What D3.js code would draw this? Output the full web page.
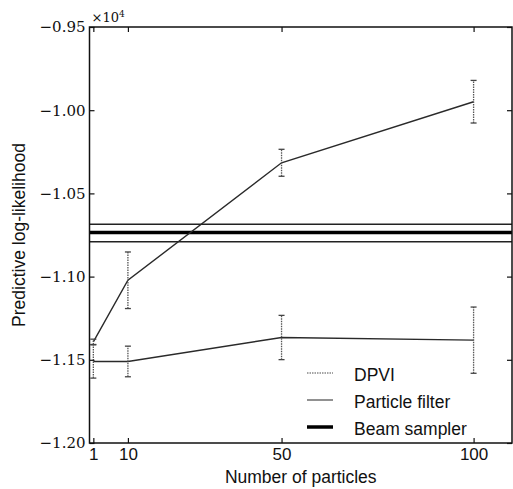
<!DOCTYPE html>
<html>
<head>
<meta charset="utf-8">
<script src="https://cdn.jsdelivr.net/npm/d3@7"></script>
<style>
  body { margin: 0; background: #fff; }
</style>
</head>
<body>
<svg id="chart" width="513" height="489"></svg>
<script>
// values are in units of 10^4
const particles = [1, 10, 50, 100]
const dpviMean = [-1.1392, -1.1022, -1.0316, -0.9949]
const dpviErr = [0.0016, 0.0170, 0.0081, 0.0128]
const pfMean = [-1.1510, -1.1510, -1.1366, -1.1382]
const pfErr = [0.0100, 0.0092, 0.0133, 0.0199]
const beamMean = -1.0735
const beamBand = [-1.0685, -1.0791]
const xTicks = [1, 10, 50, 100]
const yTicks = [-1.20, -1.15, -1.10, -1.05, -1.00, -0.95]
const legendNames = ["DPVI", "Particle filter", "Beam sampler"]

const svg = d3.select("#chart")
const plotLeft = 89.5, plotRight = 512, plotTop = 27, plotBottom = 443

const x = d3.scaleLinear().domain([0, 110]).range([plotLeft, plotRight])
const y = d3.scaleLinear().domain([-1.20, -0.95]).range([plotBottom, plotTop])

const serif = "'DejaVu Serif', 'Liberation Serif', serif"
const sans = "'Liberation Sans', Arial, sans-serif"

// beam sampler: mean and band
svg.append("line")
    .attr("x1", x(0)).attr("x2", x(110))
    .attr("y1", y(beamMean)).attr("y2", y(beamMean))
    .attr("stroke", "#000").attr("stroke-width", 3.5)
beamBand.forEach(v => {
    svg.append("line")
        .attr("x1", x(0)).attr("x2", x(110))
        .attr("y1", y(v)).attr("y2", y(v))
        .attr("stroke", "#222").attr("stroke-width", 1.4)
})

function drawSeries(mean, err) {
    const pts = particles.map((p, i) => [p, mean[i], err[i]])
    const line = d3.line().x(d => x(d[0])).y(d => y(d[1]))
    svg.append("path")
        .datum(pts)
        .attr("d", line)
        .attr("fill", "none")
        .attr("stroke", "#2a2a2a")
        .attr("stroke-width", 1.4)
    const g = svg.append("g")
    pts.forEach(d => {
        g.append("line")
            .attr("x1", x(d[0])).attr("x2", x(d[0]))
            .attr("y1", y(d[1] - d[2])).attr("y2", y(d[1] + d[2]))
            .attr("stroke", "#555").attr("stroke-width", 1.3)
            .attr("stroke-dasharray", "1.5,1")
        ;[d[1] - d[2], d[1] + d[2]].forEach(v => {
            g.append("line")
                .attr("x1", x(d[0]) - 3).attr("x2", x(d[0]) + 3)
                .attr("y1", y(v)).attr("y2", y(v))
                .attr("stroke", "#444").attr("stroke-width", 1.3)
        })
    })
}

drawSeries(dpviMean, dpviErr)
drawSeries(pfMean, pfErr)

// axes with inward ticks on all four sides
const fmt = d3.format(".2f")
const axL = svg.append("g").attr("transform", `translate(${plotLeft},0)`)
    .call(d3.axisLeft(y).tickValues(yTicks).tickSize(-5).tickPadding(4).tickFormat(fmt))
axL.selectAll("text").attr("font-family", serif).attr("font-size", 15).attr("fill", "#111")
const axR = svg.append("g").attr("transform", `translate(${plotRight},0)`)
    .call(d3.axisRight(y).tickValues(yTicks).tickSize(-5).tickFormat(""))
const axB = svg.append("g").attr("transform", `translate(0,${plotBottom})`)
    .call(d3.axisBottom(x).tickValues(xTicks).tickSize(-5).tickPadding(5))
axB.selectAll("text").attr("font-family", sans).attr("font-size", 17).attr("fill", "#111")
const axT = svg.append("g").attr("transform", `translate(0,${plotTop})`)
    .call(d3.axisTop(x).tickValues(xTicks).tickSize(-5).tickFormat(""))
;[axL, axR, axB, axT].forEach(a => {
    a.select(".domain").remove()
    a.selectAll("line").attr("stroke", "#111").attr("stroke-width", 1.2)
})

svg.append("rect")
    .attr("x", plotLeft).attr("y", plotTop)
    .attr("width", plotRight - plotLeft).attr("height", plotBottom - plotTop)
    .attr("fill", "none").attr("stroke", "#111").attr("stroke-width", 1.5)

// offset label
const off = svg.append("text")
    .attr("x", plotLeft + 2).attr("y", plotTop - 5)
    .attr("font-family", serif).attr("font-size", 13).attr("fill", "#111")
off.append("tspan").text("×10")
off.append("tspan").attr("dy", -5).attr("font-size", 9).text("4")

// axis labels
svg.append("text")
    .attr("x", (plotLeft + plotRight) / 2).attr("y", 483)
    .attr("text-anchor", "middle")
    .attr("font-family", sans).attr("font-size", 17.5).attr("fill", "#111")
    .text("Number of particles")
svg.append("text")
    .attr("transform", `translate(25,${(plotTop + plotBottom) / 2}) rotate(-90)`)
    .attr("text-anchor", "middle")
    .attr("font-family", sans).attr("font-size", 17.5).attr("fill", "#111")
    .text("Predictive log-likelihood")

// legend
const legStyles = [
    { color: "#888", width: 1.3, dash: "1.5,1" },
    { color: "#555", width: 1.3, dash: null },
    { color: "#000", width: 3.5, dash: null }
]
const leg = svg.append("g")
legendNames.forEach((name, i) => {
    const ly = 373 + i * 27
    leg.append("line")
        .attr("x1", 307).attr("x2", 333)
        .attr("y1", ly).attr("y2", ly)
        .attr("stroke", legStyles[i].color)
        .attr("stroke-width", legStyles[i].width)
        .attr("stroke-dasharray", legStyles[i].dash)
    leg.append("text")
        .attr("x", 354).attr("y", ly + 8)
        .attr("font-family", sans).attr("font-size", 17.5).attr("fill", "#111")
        .text(name)
})
</script>
</body>
</html>
